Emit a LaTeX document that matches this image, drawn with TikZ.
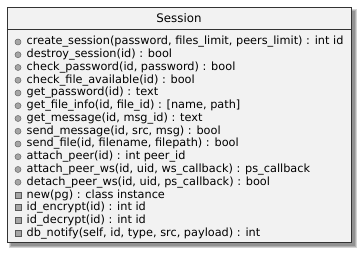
\documentclass[tikz,border=0pt]{standalone}
\usepackage{fontspec}
\setmainfont{DejaVu Sans}
\usetikzlibrary{positioning}
\colorlet{boxfill}{black!5}
\colorlet{boxline}{black!80}
\colorlet{iconfill}{black!35}

\begin{document}
\begin{tikzpicture}[x=1pt, y=-1pt,
  classbox/.style={draw=boxline, fill=boxfill, line width=1.3pt,
                   minimum width=344pt, minimum height=235pt, inner sep=0pt},
  member/.style={anchor=west, inner sep=0pt, font=\fontsize{11.3}{13}\selectfont},
  pub/.style={circle, draw=black!60, fill=iconfill, minimum size=6pt,
              inner sep=0pt, line width=0.5pt},
  priv/.style={rectangle, draw=black!65, fill=iconfill, minimum size=6pt,
               inner sep=0pt, line width=0.5pt}
]
\useasboundingbox (0,0) rectangle (360,253);

% soft shadow behind the class box
\foreach \s in {0,1,2}
  \fill[black, opacity=0.17] (11-\s,11-\s) rectangle (355+\s,246+\s);

% class box and its name
\node[classbox, anchor=north west] (session) at (7,7) {};
\node[font=\fontsize{11.8}{13}\selectfont] (title) at (179,18.5) {Session};
\coordinate (sepL) at (7,29.5);
\coordinate (sepR) at (351,29.5);
\draw[boxline, line width=1pt] (sepL) -- (sepR);

% methods: public ones get a circle, private ones a square
\foreach \txt [count=\i] in {%
  {create\_session(password, files\_limit, peers\_limit) : int id},
  {destroy\_session(id) : bool},
  {check\_password(id, password) : bool},
  {check\_file\_available(id) : bool},
  {get\_password(id) : text},
  {get\_file\_info(id, file\_id) : [name, path]},
  {get\_message(id, msg\_id) : text},
  {send\_message(id, src, msg) : bool},
  {send\_file(id, filename, filepath) : bool},
  {attach\_peer(id) : int peer\_id},
  {attach\_peer\_ws(id, uid, ws\_callback) : ps\_callback},
  {detach\_peer\_ws(id, uid, ps\_callback) : bool},
  {new(pg) : class instance},
  {id\_encrypt(id) : int id},
  {id\_decrypt(id) : int id},
  {db\_notify(self, id, type, src, payload) : int}}
{
  \pgfmathsetmacro{\ypos}{42+(\i-1)*12.75}
  \ifnum\i<13
    \node[pub] (icon\i) at (18,\ypos) {};
  \else
    \node[priv] (icon\i) at (18,\ypos) {};
  \fi
  \node[member] (m\i) at (26.5,\ypos) {\txt};
}
\end{tikzpicture}
\end{document}
